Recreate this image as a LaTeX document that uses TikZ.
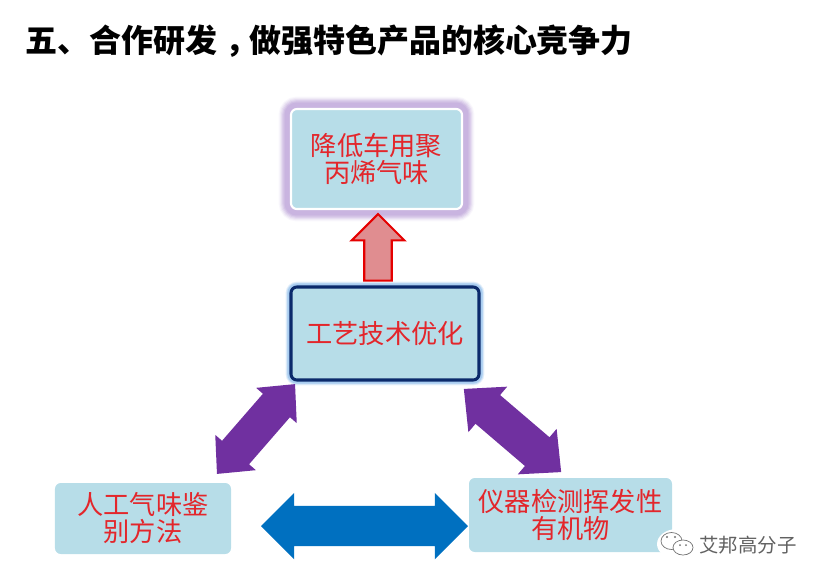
\documentclass[tikz,border=0pt]{standalone}
\usepackage{fontspec}
\setmainfont{Noto Sans CJK SC}
\usetikzlibrary{shapes.arrows}
\usetikzlibrary{positioning}
\definecolor{boxblue}{HTML}{B7DDE8}
\definecolor{glowpurple}{HTML}{C4AEDD}
\definecolor{glowblue}{HTML}{A9CDF0}
\definecolor{navy}{HTML}{0B2A6B}
\definecolor{arrowpurple}{HTML}{7030A0}
\definecolor{arrowblue}{HTML}{0070C0}
\definecolor{arrowred}{HTML}{E08D90}
\definecolor{textred}{HTML}{E3262B}
\tikzset{
    boxn/.style = {rectangle, rounded corners=5pt, fill=boxblue, align=center, inner sep=0pt, text=textred, font=\fontsize{22.4}{23}\selectfont},
    boxglow/.style = {boxn, line width=1.8pt, draw=white,
        preaction={draw=glowpurple!10, line width=21pt},
        preaction={draw=glowpurple!25, line width=19pt},
        preaction={draw=glowpurple!42, line width=17pt},
        preaction={draw=glowpurple!60, line width=15pt},
        preaction={draw=glowpurple!78, line width=13pt},
        preaction={draw=glowpurple!92, line width=11pt}},
    boxnavy/.style = {boxn, line width=2.6pt, draw=navy,
        preaction={draw=glowblue!30, line width=9pt},
        preaction={draw=glowblue!60, line width=7.5pt},
        preaction={draw=glowblue, line width=6pt}},
    arrowd/.style = {double arrow, outer sep=0pt, draw=none, fill=arrowpurple},
    arrowu/.style = {single arrow, outer sep=0pt, line width=1.8pt, draw=red!90!black, fill=arrowred},
    titlen/.style = {anchor=west, inner sep=0pt, font=\fontsize{27.3}{30}\selectfont\bfseries},
    markn/.style = {anchor=west, inner sep=1pt, fill=white, text=black!62, font=\fontsize{16.6}{18}\selectfont},
    bubble/.style = {draw=black!55, fill=white, line width=0.6pt}
}
\begin{document}
\begin{tikzpicture}[x=0.03cm,y=-0.03cm]
\useasboundingbox (0,0) rectangle (825,580);
%
\node[titlen] at (25,41) (head) {五、合作研发\hspace{.25em}，\hspace{-.25em}做强特色产品的核心竞争力};
%
\node[boxglow, minimum width=5.13cm, minimum height=3.0cm] at (376.5,159) (odor) {降低车用聚\\丙烯气味};
\node[boxnavy, minimum width=5.64cm, minimum height=2.79cm] at (385,333.5) (tech) {工艺技术优化};
\node[boxn, minimum width=5.28cm, minimum height=2.13cm] at (143,518.5) (smell) {人工气味鉴\\别方法};
\node[boxn, minimum width=6.09cm, minimum height=2.22cm] at (570.5,515) (instr) {仪器检测挥发性\\有机物};
%
\node[arrowu, rotate=90, anchor=tip, inner xsep=0pt, inner ysep=0.38cm, minimum height=2.0cm,
      single arrow head extend=0.38cm, single arrow tip angle=90] at (378,214) (up) {};
\node[arrowd, rotate=49, inner xsep=0pt, inner ysep=0.53cm, minimum height=3.57cm,
      double arrow head extend=0.27cm, double arrow tip angle=87] at (256,429) (left) {};
\node[arrowd, rotate=-40.5, inner xsep=0pt, inner ysep=0.56cm, minimum height=3.84cm,
      double arrow head extend=0.33cm, double arrow tip angle=87] at (512.5,430.5) (right) {};
\node[arrowd, fill=arrowblue, inner xsep=0pt, inner ysep=0.6cm, minimum height=6.21cm,
      double arrow head extend=0.39cm, double arrow tip angle=90] at (364.5,526) (bottom) {};
%
\fill[white] (677,544) ellipse (20 and 15);
\draw[bubble] (671.5,541) ellipse (10.5 and 8.5);
\draw[bubble] (683,547.5) ellipse (10 and 7.5);
\fill[black!55] (667,537) circle (1.2) (675,537) circle (1.2) (680,545) circle (1) (686,545) circle (1);
\node[markn] at (698,545) (logo) {艾邦高分子};

\end{tikzpicture}
\end{document}
